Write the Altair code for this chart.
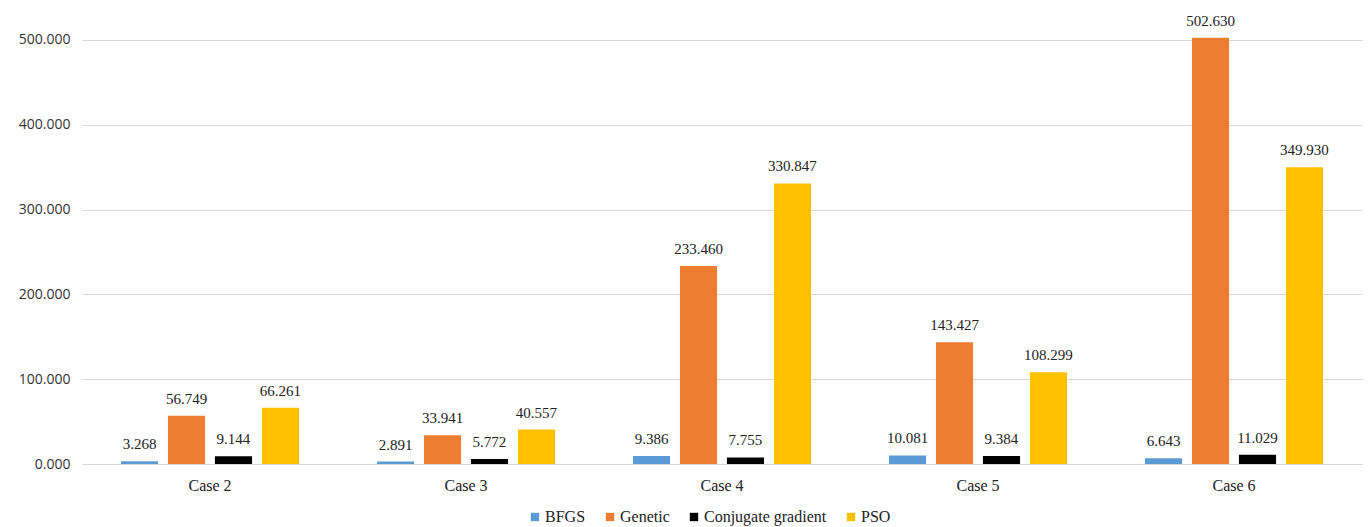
import altair as alt
import pandas as pd

cases = ["Case 2", "Case 3", "Case 4", "Case 5", "Case 6"]
methods = ["BFGS", "Genetic", "Conjugate gradient", "PSO"]
bfgs = [3.268, 2.891, 9.386, 10.081, 6.643]
genetic = [56.749, 33.941, 233.460, 143.427, 502.630]
conj = [9.144, 5.772, 7.755, 9.384, 11.029]
pso = [66.261, 40.557, 330.847, 108.299, 349.930]
colors = ["#5B9BD5", "#ED7D31", "#000000", "#FFC000"]
y_ticks = [0, 100, 200, 300, 400, 500]

SERIF = "Liberation Serif"
H = 441

rows = []
for series, name in zip([bfgs, genetic, conj, pso], methods):
    for c, v in zip(cases, series):
        rows.append({"case": c, "method": name, "value": v})
df = pd.DataFrame(rows)
case_df = pd.DataFrame({"case": cases})

xscale = alt.Scale(paddingInner=0.266, paddingOuter=0.133)
x = alt.X("case:N", sort=cases, title=None, scale=xscale,
          axis=alt.Axis(labelAngle=0, labels=False))
xo = alt.XOffset("method:N", sort=methods,
                 scale=alt.Scale(paddingInner=0.21, paddingOuter=0.105))
y = alt.Y("value:Q", title=None,
          scale=alt.Scale(domain=[0, 520], nice=False),
          axis=alt.Axis(values=y_ticks, format=".3f"))

bars = alt.Chart(df).mark_bar().encode(
    x=x, xOffset=xo, y=y,
    color=alt.Color("method:N", sort=methods,
                    scale=alt.Scale(domain=methods, range=colors),
                    legend=alt.Legend(title=None, orient="none", direction="horizontal",
                                      legendX=445, legendY=517 - 23 - 8,
                                      symbolType="square", symbolSize=70,
                                      columnPadding=16, labelOffset=2)),
)

labels = alt.Chart(df).mark_text(baseline="bottom", dy=-9, font=SERIF,
                                 fontSize=15, color="#222222").encode(
    x=x, xOffset=xo, y=y,
    text=alt.Text("value:Q", format=".3f"),
)

case_labels = alt.Chart(case_df).mark_text(baseline="middle", font=SERIF,
                                           fontSize=16, color="#222222").encode(
    x=alt.X("case:N", sort=cases, scale=xscale),
    y=alt.value(H + 22),
    text="case:N",
)

chart = (bars + labels + case_labels).properties(
    width=1280, height=H,
    autosize=alt.AutoSizeParams(type="none"),
    padding={"left": 82, "top": 23, "right": 8, "bottom": 63},
).configure_view(stroke=None).configure_axisX(
    ticks=False, domain=True, domainColor="#d9d9d9", grid=False,
).configure_axisY(
    ticks=False, domain=False, grid=True, gridColor="#d9d9d9",
    labelFont="Open Sans", labelFontSize=14, labelColor="#333333", labelPadding=12,
).configure_legend(
    labelFont=SERIF, labelFontSize=16, labelColor="#222222",
)

chart.save("out.html", embed_options={"renderer": "svg", "actions": False})
